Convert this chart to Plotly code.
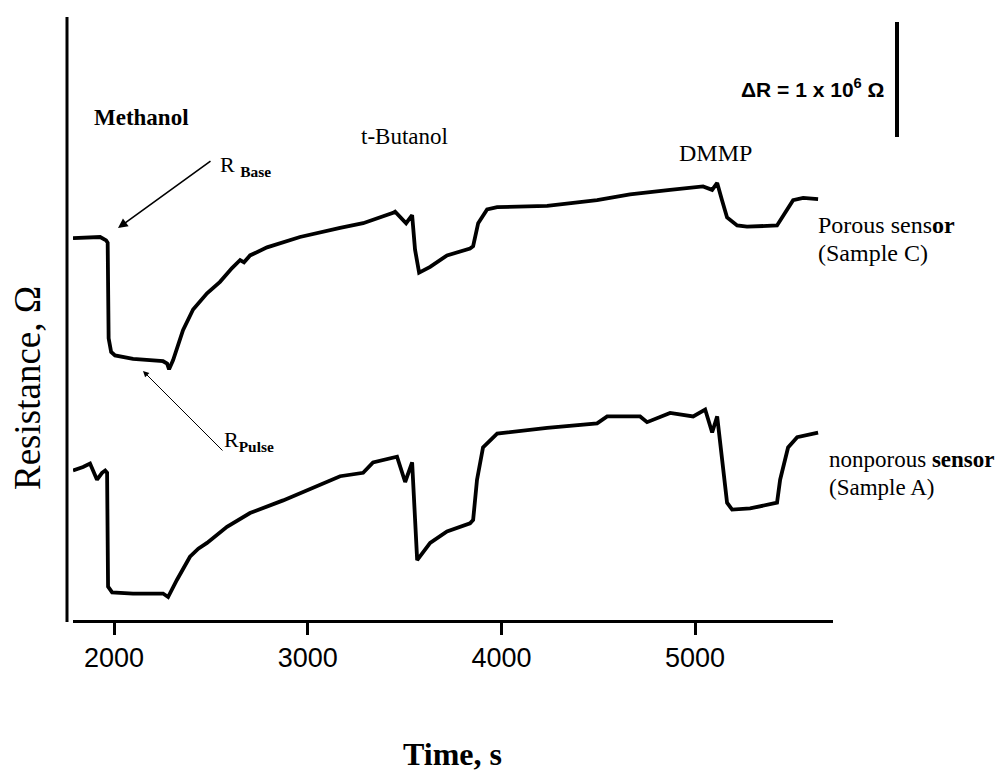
import plotly.graph_objects as go

# ---- data (time in s, resistance in MOhm relative offset) ----
porous_t = [1788, 1928, 1959, 1967, 1972, 1985, 2005, 2098, 2253, 2274, 2284, 2305, 2356, 2408,
            2480, 2547, 2609, 2651, 2671, 2702, 2790, 2960, 3167, 3286, 3441, 3451, 3508, 3539,
            3554, 3575, 3632, 3719, 3838, 3854, 3880, 3926, 3978, 4236, 4494, 4664, 4871, 5041,
            5088, 5114, 5139, 5165, 5217, 5268, 5423, 5449, 5506, 5558, 5635]
porous_r = [3.32, 3.33, 3.30, 3.28, 2.45, 2.33, 2.30, 2.27, 2.25, 2.23, 2.18, 2.26, 2.52, 2.70,
            2.84, 2.94, 3.06, 3.13, 3.11, 3.17, 3.24, 3.33, 3.41, 3.45, 3.54, 3.55, 3.45, 3.52,
            3.22, 3.02, 3.07, 3.17, 3.23, 3.25, 3.45, 3.57, 3.59, 3.60, 3.65, 3.70, 3.74, 3.77,
            3.74, 3.80, 3.65, 3.50, 3.43, 3.42, 3.43, 3.50, 3.65, 3.67, 3.66]

nonporous_t = [1788, 1840, 1876, 1912, 1938, 1954, 1964, 1969, 1990, 2098, 2253, 2279, 2325, 2360,
               2392, 2435, 2480, 2583, 2702, 2873, 3048, 3167, 3286, 3337, 3461, 3503, 3539, 3554,
               3565, 3632, 3719, 3838, 3854, 3874, 3905, 3978, 4236, 4494, 4546, 4716, 4752, 4871,
               4959, 4990, 5052, 5088, 5114, 5139, 5165, 5191, 5284, 5423, 5439, 5480, 5527, 5635]
nonporous_r = [1.30, 1.33, 1.36, 1.22, 1.28, 1.30, 1.28, 0.29, 0.24, 0.23, 0.23, 0.20, 0.35, 0.46,
               0.55, 0.62, 0.67, 0.81, 0.93, 1.04, 1.16, 1.25, 1.28, 1.37, 1.42, 1.20, 1.37, 0.87,
               0.52, 0.67, 0.77, 0.84, 0.87, 1.22, 1.50, 1.62, 1.67, 1.71, 1.77, 1.77, 1.72, 1.80,
               1.78, 1.77, 1.83, 1.63, 1.77, 1.37, 1.02, 0.96, 0.97, 1.02, 1.22, 1.50, 1.59, 1.63]

x_ticks = [2000, 3000, 4000, 5000]
x_range = [1788, 5712]
y_range = [0, 5.243]

# ---- layout geometry (pixels, page coords; page has an 8px body margin) ----
OFF = 8
W, H = 1000, 765
L, T = 73 - OFF, 17 - OFF
PR, PB = 833 - OFF, 620 - OFF          # plot-area right / bottom in figure px
R, B = W - PR, H - PB
PW, PH = PR - L, PB - T


def px(x, y):
    return (x - OFF - L) / PW, (PB - (y - OFF)) / PH


serif = "Liberation Serif"
sans = "Liberation Sans"

fig = go.Figure()
fig.add_trace(go.Scatter(x=porous_t, y=porous_r, mode="lines",
                         line=dict(color="black", width=3.8), showlegend=False))
fig.add_trace(go.Scatter(x=nonporous_t, y=nonporous_r, mode="lines",
                         line=dict(color="black", width=3.8), showlegend=False))

ann = []


def text(x, y, s, size, font=serif, xanchor="left", bold=False, angle=0):
    xp, yp = px(x, y)
    ann.append(dict(x=xp, y=yp, xref="paper", yref="paper", text=s, showarrow=False,
                    xanchor=xanchor, yanchor="middle", textangle=angle,
                    font=dict(family=font, size=size, color="black",
                              weight="bold" if bold else "normal")))


def arrow(tipx, tipy, tailx, taily, width):
    xp, yp = px(tipx, tipy)
    ann.append(dict(x=xp, y=yp, xref="paper", yref="paper", text="", showarrow=True,
                    ax=tailx - tipx, ay=taily - tipy, arrowhead=2, arrowsize=1.2,
                    arrowwidth=width, arrowcolor="black"))


text(92, 117, "Methanol", 23, bold=True)
text(359, 136, "t-Butanol", 23)
text(677, 153, "DMMP", 24)
text(218, 166, "R <sub><b>Base</b></sub>", 22)
text(222, 441, "R<sub><b>Pulse</b></sub>", 22)
text(739, 88, "ΔR = 1 x 10<sup>6</sup> Ω", 21, font=sans, bold=True)
text(816, 225, "Porous sens<b>or</b>", 24)
text(816, 253, "(Sample C)", 24)
text(827, 459, "nonporous <b>sensor</b>", 23)
text(827, 487, "(Sample A)", 23)
text(452, 754, "<b>Time, s</b>", 32, xanchor="center")
text(27, 388, "Resistance, Ω", 37, xanchor="center", angle=-90)
arrow(118, 228, 212, 160, 1.6)
arrow(143, 371, 224, 452, 1.0)

shapes = []
x0, y0 = px(67, 17)
x1, y1 = px(67, 622)
shapes.append(dict(type="line", xref="paper", yref="paper", x0=x0, y0=y0, x1=x1, y1=y1,
                   line=dict(color="black", width=3)))
x0, y0 = px(897, 22)
x1, y1 = px(897, 137)
shapes.append(dict(type="line", xref="paper", yref="paper", x0=x0, y0=y0, x1=x1, y1=y1,
                   line=dict(color="black", width=4)))

fig.update_layout(
    width=W, height=H,
    margin=dict(l=L, r=R, t=T, b=B, pad=0),
    paper_bgcolor="white", plot_bgcolor="white",
    annotations=ann, shapes=shapes,
    xaxis=dict(range=x_range, tickvals=x_ticks, ticktext=[str(v) for v in x_ticks],
               showline=True, linecolor="black", linewidth=3, ticks="outside",
               ticklen=12, tickwidth=3, tickcolor="black", showgrid=False, zeroline=False,
               tickfont=dict(family=sans, size=27, color="black")),
    yaxis=dict(range=y_range, showline=False, showticklabels=False, ticks="",
               showgrid=False, zeroline=False),
)

fig.write_html("out.html")
